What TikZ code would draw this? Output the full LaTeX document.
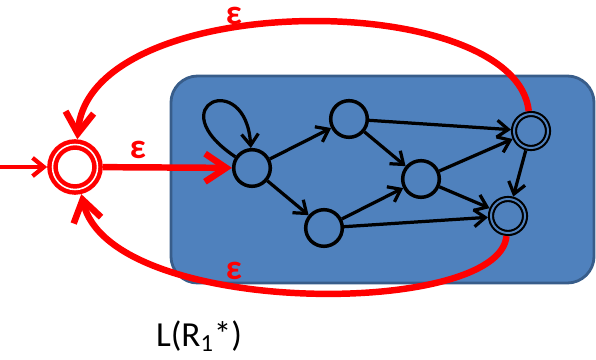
\documentclass[tikz,border=0pt]{standalone}
\usepackage{fontspec}
\setmainfont{Carlito}
\usepackage{xcolor}
\usetikzlibrary{arrows.meta,positioning}
\definecolor{boxblue}{HTML}{4F81BD}
\definecolor{boxedge}{HTML}{385D8A}
\definecolor{epsred}{HTML}{FF0000}

\begin{document}
\begin{tikzpicture}[x=0.025cm,y=0.025cm,
 state/.style={circle,draw,line width=2.5pt,minimum size=0.915cm,inner sep=0pt},
 accept/.style={circle,draw,line width=1.5pt,double=boxblue,double distance=1.4pt,minimum size=0.85cm,inner sep=0pt,outer sep=2.2pt},
 startstate/.style={circle,draw=epsred,line width=3.2pt,double=white,double distance=1.1pt,minimum size=1.125cm,inner sep=0pt,outer sep=3.8pt},
 arrow/.style={-{Straight Barb[length=8pt,width=12pt]},line width=2.3pt},
 eps/.style={-{Straight Barb[length=15pt,width=20pt]},line width=4.6pt,draw=epsred},
 initarrow/.style={-{Straight Barb[length=8pt,width=13pt]},line width=3pt,draw=epsred},
 lab/.style={font=\bfseries\fontsize{25}{30}\selectfont,text=epsred,inner sep=0pt}]
\useasboundingbox (0,0) rectangle (596,360);
% the machine for R1
\node[draw=boxedge,fill=boxblue,line width=2pt,rounded corners=0.67cm,minimum width=10.575cm,minimum height=5.175cm] (box) at (382.5,180.5) {};
\node[state] (q0) at (252,192) {};
\node[state] (q1) at (349,241) {};
\node[state] (q2) at (324,132) {};
\node[state] (q3) at (421,181) {};
\node[accept] (f1) at (531,229) {};
\node[accept] (f2) at (508,144) {};
\draw[arrow] (q0) .. controls (158,255) and (246,292) .. (q0);
\draw[arrow] (q0)--(q1);
\draw[arrow] (q0)--(q2);
\draw[arrow] (q1)--(f1);
\draw[arrow] (q1)--(q3);
\draw[arrow] (q2)--(q3);
\draw[arrow] (q2)--(f2);
\draw[arrow] (q3)--(f1);
\draw[arrow] (q3)--(f2);
\draw[arrow] (f1)--(f2);
% new start state and epsilon moves
\node[startstate] (S) at (75,193) {};
\coordinate (init) at (0,193);
\draw[initarrow] (init)--(S);
\draw[eps] (S)--(q0);
\draw[eps] (f1) .. controls (515,372) and (90,372) .. (S);
\draw[eps] (f2) .. controls (500,42) and (110,42) .. (S);
\node[lab] (e0) at (138,210) {ε};
\node[lab] (e1) at (234,344) {ε};
\node[lab] (e2) at (234,89) {ε};
\node[font=\fontsize{25}{30}\selectfont] (name) at (199,24) {L(R\textsubscript{1}*)};
\end{tikzpicture}
\end{document}
